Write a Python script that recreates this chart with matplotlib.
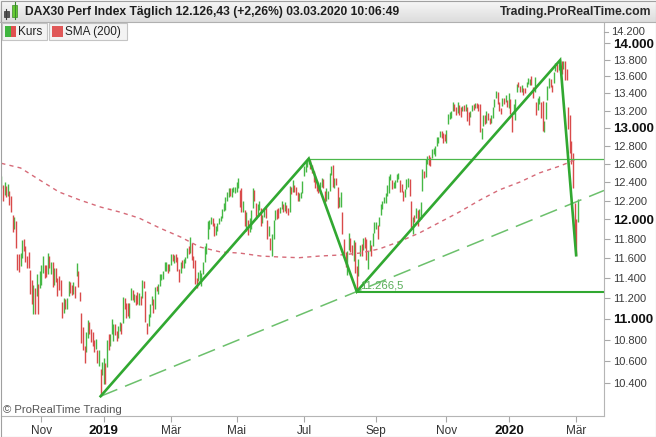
import numpy as np
import pandas as pd
import matplotlib
matplotlib.use("Agg")
import matplotlib.pyplot as plt
from matplotlib.patches import Rectangle
from matplotlib.colors import LinearSegmentedColormap
from matplotlib.ticker import NullLocator

plt.rcParams['font.family'] = ['Liberation Sans', 'DejaVu Sans']
plt.rcParams['lines.scale_dashes'] = False

W, H = 656, 437

# Xetra closed days in the range
holidays = ['2018-12-24', '2018-12-25', '2018-12-26', '2018-12-31', '2019-01-01',
            '2019-04-19', '2019-04-22', '2019-05-01', '2019-12-24', '2019-12-25',
            '2019-12-26', '2019-12-31', '2020-01-01']

# DAX daily bars, 27.09.2018 - 03.03.2020
closes = [
    12435, 12247,
    12346, 12287, 12287, 12244, 12111, 11947, 11977, 11712, 11539, 11524, 11614, 11777, 11715, 11589, 11554, 11524, 11274, 11191, 11307, 11201, 11335, 11287, 11447,
    11468, 11519, 11495, 11484, 11579, 11527, 11529, 11325, 11472, 11412, 11353, 11341, 11244, 11066, 11139, 11138, 11192, 11354, 11309, 11298, 11298, 11257,
    11465, 11335, 11200, 10811, 10788, 10622, 10780, 10931, 10924, 10865, 10772, 10740, 10766, 10611, 10634, 10382, 10559,
    10580, 10416, 10768, 10747, 10803, 10893, 10921, 10887, 10856, 10891, 10931, 10919, 11205, 11136, 11090, 11071, 11130, 11282, 11210, 11219, 11181, 11173,
    11180, 11176, 11368, 11324, 10994, 10906, 11014, 11126, 11167, 11089, 11300, 11299, 11309, 11401, 11423, 11458, 11505, 11540, 11487, 11515,
    11602, 11593, 11620, 11588, 11517, 11457, 11543, 11524, 11572, 11587, 11686, 11657, 11788, 11603, 11550, 11364, 11346, 11419, 11419, 11429, 11526,
    11681, 11754, 11954, 11988, 12010, 11963, 11850, 11905, 11935, 11999, 12020, 12101, 12153, 12222, 12236, 12313, 12282, 12315, 12328, 12344,
    12345, 12412, 12286, 12093, 12179, 11974, 12060, 11876, 11991, 12099, 12310, 12238, 12041, 12143, 12168, 11952, 12011, 12071, 12027, 11837, 11902, 11727,
    11820, 11971, 12091, 12060, 12045, 12111, 12155, 12116, 12169, 12096, 12086, 12331, 12309, 12355, 12340, 12275, 12228, 12245, 12271, 12399,
    12522, 12616, 12630, 12630, 12569, 12543, 12437, 12373, 12332, 12323, 12387, 12430, 12341, 12227, 12260, 12289, 12490, 12522, 12363, 12419, 12418, 12147, 12189,
    12253, 11872, 11659, 11567, 11650, 11845, 11694, 11679, 11750, 11492, 11412, 11563, 11715, 11652, 11802, 11777, 11612, 11658, 11730, 11701, 11838, 11939,
    11953, 11911, 12025, 12126, 12192, 12226, 12269, 12359, 12410, 12469, 12381, 12389, 12390, 12457, 12468, 12342, 12307, 12234, 12289, 12380, 12428,
    12263, 11925, 12014, 12013, 12097, 11970, 12094, 12164, 12511, 12486, 12630, 12670, 12654, 12633, 12748, 12754, 12798, 12872, 12894, 12941, 12939, 12910, 12867,
    12961, 13136, 13148, 13179, 13289, 13228, 13198, 13283, 13230, 13180, 13241, 13207, 13221, 13159, 13137, 13163, 13246, 13232, 13287, 13245, 13236,
    12965, 12989, 13140, 13055, 13166, 13105, 13071, 13145, 13221, 13283, 13407, 13287, 13222, 13212, 13319, 13301, 13337, 13249,
    13386, 13219, 13127, 13227, 13321, 13495, 13483, 13452, 13456, 13432, 13430, 13526, 13549, 13556, 13515, 13388, 13577, 13205, 13324, 13345, 13158, 12982,
    13046, 13282, 13479, 13575, 13514, 13494, 13628, 13750, 13745, 13745, 13784, 13681, 13789, 13665, 13579, 13035, 12791, 12775, 12367, 11890,
    11857, 12126,
]
highs = [
    12460, 12370,
    12400, 12360, 12380, 12300, 12250, 12050, 12030, 11980, 11640, 11640, 11650, 11790, 11800, 11720, 11620, 11660, 11480, 11380, 11330, 11300, 11440, 11340, 11470,
    11530, 11620, 11530, 11530, 11650, 11620, 11560, 11560, 11500, 11500, 11400, 11420, 11380, 11160, 11200, 11190, 11200, 11370, 11360, 11330, 11360, 11320,
    11550, 11470, 11260, 11060, 10920, 10740, 10870, 10990, 10970, 10900, 10870, 10800, 10810, 10700, 10700, 10530, 10590,
    10630, 10580, 10800, 10860, 10860, 11000, 10950, 10950, 10880, 10930, 10970, 10960, 11210, 11200, 11150, 11150, 11150, 11300, 11280, 11240, 11230, 11260,
    11250, 11220, 11380, 11370, 11270, 10960, 11050, 11140, 11220, 11190, 11310, 11320, 11340, 11440, 11440, 11470, 11560, 11560, 11540, 11540,
    11640, 11640, 11630, 11640, 11610, 11490, 11560, 11580, 11590, 11610, 11700, 11720, 11820, 11760, 11620, 11580, 11400, 11460, 11480, 11450, 11560,
    11720, 11760, 11980, 11990, 12030, 12020, 11960, 11930, 11960, 12020, 12040, 12110, 12170, 12240, 12290, 12330, 12330, 12340, 12350, 12350,
    12400, 12440, 12310, 12330, 12200, 12100, 12080, 11990, 12020, 12100, 12330, 12310, 12170, 12160, 12200, 12120, 12050, 12110, 12130, 11990, 11930, 11810,
    11850, 11990, 12100, 12110, 12120, 12130, 12200, 12160, 12180, 12150, 12120, 12360, 12350, 12420, 12370, 12350, 12290, 12280, 12290, 12410,
    12570, 12620, 12640, 12656, 12640, 12590, 12520, 12460, 12410, 12360, 12400, 12440, 12430, 12300, 12330, 12300, 12500, 12580, 12590, 12440, 12440, 12350, 12240,
    12290, 12080, 11800, 11660, 11670, 11860, 11810, 11730, 11790, 11770, 11520, 11590, 11730, 11740, 11810, 11820, 11800, 11670, 11790, 11730, 11860, 11970,
    11970, 11940, 12030, 12160, 12200, 12240, 12280, 12370, 12460, 12490, 12420, 12400, 12420, 12490, 12500, 12420, 12380, 12300, 12320, 12430, 12440,
    12430, 12190, 12030, 12050, 12120, 12100, 12110, 12180, 12540, 12520, 12650, 12690, 12700, 12670, 12760, 12770, 12800, 12900, 12900, 12960, 12960, 12940, 12930,
    12980, 13160, 13180, 13190, 13300, 13280, 13240, 13300, 13260, 13240, 13250, 13260, 13280, 13240, 13180, 13200, 13260, 13270, 13290, 13290, 13270,
    13270, 13000, 13150, 13150, 13190, 13170, 13110, 13150, 13240, 13330, 13430, 13410, 13300, 13230, 13340, 13340, 13380, 13320,
    13400, 13330, 13150, 13280, 13330, 13510, 13530, 13490, 13500, 13460, 13460, 13530, 13580, 13570, 13600, 13480, 13590, 13300, 13350, 13370, 13300, 13310,
    13080, 13300, 13490, 13580, 13570, 13500, 13650, 13760, 13760, 13750, 13795, 13780, 13790, 13790, 13690, 13240, 13150, 12850, 12720, 12170,
    12000, 12220,
]
lows = [
    12330, 12200,
    12260, 12240, 12250, 12150, 12080, 11870, 11900, 11700, 11480, 11460, 11520, 11600, 11670, 11560, 11500, 11500, 11240, 11140, 11050, 11050, 11220, 11050, 11300,
    11330, 11450, 11400, 11410, 11440, 11500, 11440, 11310, 11330, 11360, 11220, 11280, 11220, 11010, 11060, 11100, 11100, 11220, 11250, 11230, 11240, 11200,
    11420, 11310, 11170, 10770, 10700, 10580, 10690, 10820, 10860, 10780, 10740, 10690, 10710, 10580, 10560, 10280, 10470,
    10390, 10390, 10550, 10700, 10740, 10860, 10790, 10850, 10790, 10820, 10880, 10860, 10960, 11100, 11010, 11030, 11010, 11180, 11180, 11160, 11130, 11140,
    11130, 11130, 11200, 11300, 10970, 10860, 10930, 11020, 11130, 11060, 11100, 11270, 11240, 11320, 11380, 11390, 11470, 11470, 11450, 11470,
    11530, 11570, 11550, 11560, 11470, 11360, 11450, 11500, 11500, 11550, 11600, 11640, 11650, 11580, 11500, 11340, 11300, 11370, 11380, 11320, 11440,
    11560, 11640, 11800, 11900, 11950, 11930, 11830, 11840, 11880, 11950, 11980, 12020, 12090, 12100, 12200, 12240, 12250, 12240, 12290, 12280,
    12290, 12330, 12130, 12080, 12080, 11930, 11880, 11840, 11870, 11900, 12120, 12200, 12000, 12040, 12100, 11930, 11960, 12030, 12010, 11800, 11830, 11680,
    11620, 11800, 11990, 12000, 12010, 12070, 12110, 12080, 12090, 12070, 12050, 12080, 12270, 12290, 12290, 12260, 12200, 12200, 12230, 12280,
    12460, 12510, 12560, 12600, 12540, 12500, 12400, 12330, 12300, 12280, 12340, 12350, 12330, 12180, 12200, 12220, 12300, 12480, 12350, 12330, 12370, 12120, 12130,
    12130, 11850, 11620, 11510, 11430, 11680, 11660, 11630, 11570, 11450, 11266.5, 11420, 11620, 11620, 11680, 11700, 11580, 11490, 11670, 11620, 11720, 11860,
    11900, 11800, 11930, 12050, 12110, 12170, 12170, 12250, 12280, 12420, 12320, 12340, 12330, 12400, 12430, 12290, 12290, 12200, 12240, 12320, 12350,
    12250, 11910, 11850, 11970, 12010, 11930, 11980, 12000, 12300, 12440, 12450, 12600, 12590, 12580, 12660, 12710, 12690, 12800, 12830, 12900, 12890, 12830, 12850,
    12830, 13040, 13100, 13110, 13200, 13200, 13150, 13170, 13150, 13120, 13190, 13190, 13200, 13080, 13030, 13120, 13200, 13210, 13230, 13230, 13200,
    12950, 12880, 13020, 13040, 13060, 13090, 13040, 13060, 13110, 13240, 13350, 13270, 13190, 13160, 13250, 13280, 13300, 13240,
    13230, 13160, 12950, 13160, 13090, 13420, 13470, 13420, 13420, 13380, 13400, 13480, 13510, 13500, 13500, 13350, 13420, 13150, 13210, 13280, 13110, 12970,
    12950, 13100, 13320, 13460, 13480, 13420, 13520, 13660, 13650, 13680, 13730, 13630, 13690, 13560, 13560, 12990, 12720, 12600, 12340, 11720,
    11630, 11970,
]

# SMA(200)
sma_dates = ['2018-09-27', '2018-10-15', '2018-10-31', '2018-11-16', '2018-12-05', '2018-12-27',
             '2019-01-16', '2019-02-01', '2019-02-20', '2019-03-11', '2019-03-27', '2019-04-15',
             '2019-05-06', '2019-05-23', '2019-06-10', '2019-06-26', '2019-07-15', '2019-07-31',
             '2019-08-19', '2019-09-04', '2019-09-20', '2019-10-09', '2019-10-25', '2019-11-13',
             '2019-12-02', '2019-12-18', '2020-01-13', '2020-01-29', '2020-02-17', '2020-02-28',
             '2020-03-03']
sma_values = [12604, 12553, 12421, 12292, 12206, 12131,
              12078, 12015, 11910, 11817, 11714, 11663,
              11652, 11622, 11612, 11605, 11622, 11632,
              11652, 11694, 11766, 11858, 11963, 12078,
              12206, 12314, 12400, 12498, 12575, 12640,
              12650]

# trend line anchor days
anchor_low1 = '2018-12-27'
anchor_high1 = '2019-07-04'
anchor_low2 = '2019-08-15'
anchor_high2 = '2020-02-17'
anchor_low3 = '2020-03-02'

tick_months = ['2018-11', '2019-01', '2019-03', '2019-05', '2019-07', '2019-09', '2019-11', '2020-01', '2020-03']
tick_labels = ['Nov', '2019', 'Mär', 'Mai', 'Jul', 'Sep', 'Nov', '2020', 'Mär']
y_ticks = [10400, 10600, 10800, 11000, 11200, 11400, 11600, 11800, 12000,
           12200, 12400, 12600, 12800, 13000, 13200, 13400, 13600, 13800, 14000]

title = 'DAX30 Perf Index Täglich 12.126,43 (+2,26%) 03.03.2020 10:06:49'

UP = '#45b845'
DOWN = '#d94a4a'
TREND = '#31a831'

dates = pd.bdate_range('2018-09-27', '2020-03-03')
dates = dates[~dates.isin(pd.to_datetime(holidays))]
assert len(dates) == len(closes) == len(highs) == len(lows), (len(dates), len(closes), len(highs), len(lows))

closes = np.array(closes, dtype=float)
highs = np.array(highs, dtype=float)
lows = np.array(lows, dtype=float)
x = np.arange(len(dates))
opens = np.r_[closes[0], closes[:-1]]
up = closes >= opens


def idx(day):
    return int(dates.get_loc(pd.Timestamp(day)))


fig = plt.figure(figsize=(W / 100, H / 100), dpi=100)
fig.patch.set_facecolor('white')
ax = fig.add_axes([1 / W, 21 / H, 603 / W, 394 / H])

ax.vlines(x[up], lows[up], highs[up], color=UP, lw=1.0)
ax.vlines(x[~up], lows[~up], highs[~up], color=DOWN, lw=1.0)

sma_x = dates.get_indexer(pd.to_datetime(sma_dates))
ax.plot(sma_x, sma_values, color='#d66a78', lw=1.0, dashes=(3, 3))

x_right = 376.4
i0, i1, i2, i3, i4 = idx(anchor_low1), idx(anchor_high1), idx(anchor_low2), idx(anchor_high2), idx(anchor_low3)
v0, v1, v2, v3, v4 = lows[i0], highs[i1], lows[i2], highs[i3], lows[i4]

# dashed support ray through the two lows (straight on log scale)
v_end = v0 * (v2 / v0) ** ((x_right - i0) / (i2 - i0))
ax.plot([i0, x_right], [v0, v_end], color='#6cc06c', lw=1.1, dashes=(13, 6))

ax.plot([i1, x_right], [v1, v1], color='#4cb84c', lw=0.9)
ax.plot([i2, x_right], [v2, v2], color=TREND, lw=1.5)
ax.plot([i0, i1, i2, i3, i4], [v0, v1, v2, v3, v4], color=TREND, lw=1.9,
        solid_joinstyle='miter')

lbl = f'{v2:,.1f}'.replace(',', ' ').replace('.', ',').replace(' ', '.')
ax.annotate(lbl, xy=(i2, v2), xytext=(3, 1), textcoords='offset pixels',
            ha='left', va='bottom', fontsize=8.1, color='#58ad58')

ax.set_yscale('log')
ax.set_ylim(10104, 14263)
ax.set_xlim(-0.2, x_right)

ax.yaxis.tick_right()
ax.tick_params(axis='y', which='major', direction='out', length=4, width=0.8,
               color='#a8a8a8', pad=2.5, labelsize=8, labelcolor='#3a3a3a')
ax.set_yticks(y_ticks, labels=[f'{v:,}'.replace(',', '.') for v in y_ticks])
ax.yaxis.set_minor_locator(NullLocator())
for lab, v in zip(ax.get_yticklabels(), y_ticks):
    if v % 1000 == 0:
        lab.set_fontweight('bold')
        lab.set_fontsize(9.6)
        lab.set_color('#111111')

tick_pos = [int(np.searchsorted(dates, pd.Timestamp(m + '-01'))) for m in tick_months]
ax.tick_params(axis='x', direction='out', length=4, width=0.8, color='#a8a8a8',
               pad=2.5, labelsize=8.5, labelcolor='#333333')
ax.set_xticks(tick_pos, labels=tick_labels)
for lab in ax.get_xticklabels():
    if lab.get_text().isdigit():
        lab.set_fontweight('bold')
        lab.set_fontsize(9.7)
        lab.set_color('#111111')

for side in ['top', 'left']:
    ax.spines[side].set_visible(False)
for side in ['right', 'bottom']:
    ax.spines[side].set_color('#b5b5b5')
    ax.spines[side].set_linewidth(0.8)

# overlay in pixel coordinates: header, legend, watermark, frame
ov = fig.add_axes([0, 0, 1, 1], zorder=5)
ov.set_axis_off()
ov.patch.set_alpha(0)
grad = np.linspace(0, 1, 22).reshape(-1, 1)
ov.imshow(grad, extent=(0, W, 22, 0), aspect='auto', interpolation='bilinear',
          cmap=LinearSegmentedColormap.from_list('hdr', ['#f7f7f7', '#dddddd']))
ov.set_xlim(0, W)
ov.set_ylim(H, 0)
ov.plot([0, W], [22, 22], color='#b0b0b0', lw=0.8)

# candle icon
ov.plot([6, 6], [9, 19], color='#404040', lw=0.8)
ov.add_patch(Rectangle((3.5, 11), 5, 6, fc='#555555', ec='#333333', lw=0.5))
ov.plot([14.5, 14.5], [2, 19], color='#3a8a2a', lw=0.8)
ov.add_patch(Rectangle((12, 5), 5, 12, fc='#66cc33', ec='#3a8a2a', lw=0.5))

ov.text(25, 12, title, fontsize=8.7, fontweight='bold', va='center', ha='left', color='#1e1e1e')
ov.text(651, 12, 'Trading.ProRealTime.com', fontsize=8.8, fontweight='bold',
        va='center', ha='right', color='#2a2a2a')

ov.add_patch(Rectangle((2, 23), 45, 17, fc='#f3f3f3', ec='#c4c4c4', lw=0.8))
ov.add_patch(Rectangle((5, 26), 5.5, 11, fc='#3fb53f', lw=0))
ov.add_patch(Rectangle((10.5, 26), 5.5, 11, fc='#e05050', lw=0))
ov.text(18, 32, 'Kurs', fontsize=8.5, va='center', ha='left', color='#222222')
ov.add_patch(Rectangle((49, 23), 78, 17, fc='#f3f3f3', ec='#c4c4c4', lw=0.8))
ov.add_patch(Rectangle((52, 26), 11, 11, fc='#e05858', lw=0))
ov.text(65, 32, 'SMA (200)', fontsize=8.5, va='center', ha='left', color='#222222')

ov.text(3, 410, '© ProRealTime Trading', fontsize=8.2, va='center', ha='left', color='#555555')

# top price label sits a little lower, as in the platform
ov.plot([604, 608], [32, 32], color='#a8a8a8', lw=0.8)
ov.text(611, 32, '14.200', fontsize=8, va='center', ha='left', color='#3a3a3a')

ov.add_patch(Rectangle((0.5, 0.5), W - 1, H - 1, fill=False, ec='#a0a0a0', lw=0.8))

fig.savefig('out.png', dpi=100)
